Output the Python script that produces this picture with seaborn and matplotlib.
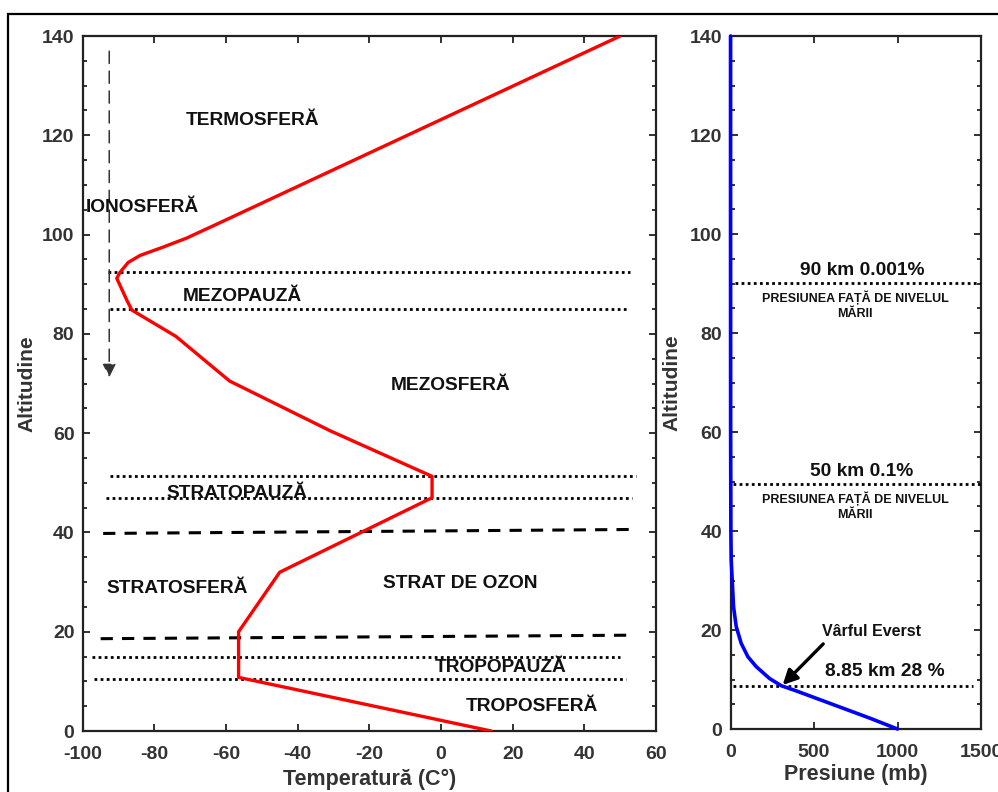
import matplotlib
matplotlib.use("Agg")
import matplotlib.pyplot as plt
import seaborn as sns
import pandas as pd
from matplotlib.patches import Rectangle
from matplotlib.ticker import MultipleLocator

# ---------------- data ----------------
# temperature profile (left panel)
temp_c = [14, -56.5, -56.5, -45, -2.5, -2.5, -31, -59, -74, -86.3, -87.7, -90.5,
          -89.6, -87.3, -84, -77.5, -71, -62.6, 50]
temp_alt = [0, 10.8, 20, 32, 47, 51.3, 60.5, 70.5, 79.5, 84.8, 86.8, 91.2,
            92.4, 94.4, 95.8, 97.5, 99.3, 102.1, 140]

# dotted layer boundaries (left panel)
dot_alt = [92.5, 85, 51.3, 47, 15, 10.5]
dot_x_start = [-93, -92.5, -92.5, -93.5, -97.4, -96.8]
dot_x_end = [52.8, 52.2, 54.4, 53.3, 50, 51.7]

# dashed ozone-layer boundaries (left panel)
dash_alt_start = [39.8, 18.6]
dash_alt_end = [40.6, 19.3]
dash_x_start = [-94.3, -95]
dash_x_end = [53.3, 52.2]

# ionosphere arrow
iono_x = -92.6
iono_top = 137.5
iono_bottom = 70.7

# layer names (left panel)
layer_names = ["TERMOSFERĂ", "IONOSFERĂ", "MEZOPAUZĂ", "MEZOSFERĂ", "STRATOPAUZĂ",
               "STRATOSFERĂ", "STRAT DE OZON", "TROPOPAUZĂ", "TROPOSFERĂ"]
layer_x = [-52.5, -83.5, -55.5, 2.6, -57, -73.7, 5.4, 16.5, 25.4]
layer_y = [123, 105.4, 87.6, 69.7, 47.9, 28.7, 29.7, 12.8, 5]

# pressure profile (right panel)
press_alt = [0, 2.2, 4.2, 6.2, 7.7, 8.75, 10.2, 12.6, 14.6, 17.3, 20.7, 24.7,
             30.1, 34.1, 40, 60, 100, 140]
press_mb = [1000, 834, 674, 514, 394, 304, 234, 154, 104, 64, 34, 18,
            10, 4, 2, 0.5, 0, 0]

# reference levels (right panel)
ref_alt = [90.1, 49.5, 8.75]
ref_p_start = [25, 15, 15]
ref_p_end = [1500, 1500, 1450]
ref_title = ["90 km 0.001%", "50 km 0.1%", "8.85 km 28 %"]
ref_title_p = [787, 787, 925]
ref_title_alt = [91.0, 50.4, 10.0]
ref_note = "PRESIUNEA FAȚĂ DE NIVELUL\nMĂRII"
ref_note_p = [745, 745]
ref_note_alt = [85.6, 45.0]

everest_label = "Vârful Everst"
everest_label_pos = (847, 19.7)
everest_arrow_from = (555, 17.2)
everest_arrow_to = (312, 8.9)

# ---------------- style ----------------
sns.set_style("white")
plt.rcParams["font.family"] = ["Liberation Sans", "DejaVu Sans"]
plt.rcParams["font.weight"] = "bold"
plt.rcParams["axes.unicode_minus"] = False
TICK_COLOR = "#333333"

fig = plt.figure(figsize=(9.98, 7.92), dpi=100)
ax1 = fig.add_axes([0.0829, 0.0770, 0.5744, 0.8775])
ax2 = fig.add_axes([0.7320, 0.0795, 0.2510, 0.8750])

# figure border (top & left visible)
fig.add_artist(Rectangle((8 / 998, -0.1), 1.2, 1.1 - 14 / 792, transform=fig.transFigure,
                         fill=False, edgecolor="black", linewidth=1.6, clip_on=False))


def style_axes(ax):
    for s in ax.spines.values():
        s.set_visible(True)
        s.set_color("#222222")
        s.set_linewidth(1.6)
    ax.tick_params(which="both", direction="in", top=True, right=True,
                   left=True, bottom=True, colors="#222222", width=1.3)
    ax.tick_params(which="major", length=5, labelsize=14, labelcolor=TICK_COLOR)
    ax.tick_params(axis="y", which="major", pad=6)
    ax.tick_params(axis="x", which="major", pad=11)
    ax.tick_params(which="minor", length=3)
    ax.yaxis.set_major_locator(MultipleLocator(20))
    ax.yaxis.set_minor_locator(MultipleLocator(5))
    for lab in ax.get_xticklabels() + ax.get_yticklabels():
        lab.set_fontweight("bold")
    ax.grid(False)


# ---------------- left panel ----------------
df_t = pd.DataFrame({"temp": temp_c, "alt": temp_alt})
sns.lineplot(data=df_t, x="temp", y="alt", sort=False, estimator=None,
             color="#ff0000", linewidth=2.4, ax=ax1, zorder=4)
for y, xs, xe in zip(dot_alt, dot_x_start, dot_x_end):
    ax1.plot([xs, xe], [y, y], color="black", linestyle=(0, (1, 1.2)), linewidth=2.0, zorder=3)
for ys, ye, xs, xe in zip(dash_alt_start, dash_alt_end, dash_x_start, dash_x_end):
    ax1.plot([xs, xe], [ys, ye], color="black", linestyle=(0, (4, 3)), linewidth=2.2, zorder=3)
ax1.annotate("", xy=(iono_x, iono_bottom), xytext=(iono_x, iono_top),
             arrowprops=dict(arrowstyle="-|>", color="#333333", lw=1.1,
                             linestyle=(0, (8, 5)), mutation_scale=20))
for name, x, y in zip(layer_names, layer_x, layer_y):
    ax1.text(x, y, name, ha="center", va="center", fontsize=13.8, fontweight="bold",
             color="#111111", zorder=5)

ax1.set_xlim(-100, 60)
ax1.set_ylim(0, 140)
ax1.xaxis.set_major_locator(MultipleLocator(20))
style_axes(ax1)
ax1.set_xlabel("Temperatură (C°)", fontsize=15.5, fontweight="bold", color="#333333", labelpad=4)
ax1.set_ylabel("Altitudine", fontsize=15, fontweight="bold", color="#333333", labelpad=4)

# ---------------- right panel ----------------
df_p = pd.DataFrame({"p": press_mb, "alt": press_alt})
sns.lineplot(data=df_p, x="p", y="alt", sort=False, estimator=None,
             color="#0000ff", linewidth=2.6, ax=ax2, zorder=4, clip_on=False)
for y, ps, pe in zip(ref_alt, ref_p_start, ref_p_end):
    ax2.plot([ps, pe], [y, y], color="black", linestyle=(0, (1, 1.2)), linewidth=2.0, zorder=3)
for t, p, a in zip(ref_title, ref_title_p, ref_title_alt):
    ax2.text(p, a, t, ha="center", va="bottom", fontsize=13.8, fontweight="bold", color="#111111")
for p, a in zip(ref_note_p, ref_note_alt):
    ax2.text(p, a, ref_note, ha="center", va="center", fontsize=9, fontweight="bold",
             color="#111111", linespacing=1.35)
ax2.text(everest_label_pos[0], everest_label_pos[1], everest_label, ha="center", va="center",
         fontsize=11.5, fontweight="bold", color="#111111")
ax2.annotate("", xy=everest_arrow_to, xytext=everest_arrow_from,
             arrowprops=dict(arrowstyle="-|>", color="black", lw=2.4, mutation_scale=22,
                             shrinkA=0, shrinkB=0))

ax2.set_xlim(0, 1500)
ax2.set_ylim(0, 140)
ax2.xaxis.set_major_locator(MultipleLocator(500))
style_axes(ax2)
ax2.set_xlabel("Presiune (mb)", fontsize=15.5, fontweight="bold", color="#333333", labelpad=2)
ax2.set_ylabel("Altitudine", fontsize=15, fontweight="bold", color="#333333", labelpad=6)

fig.savefig("out.png", dpi=100)
